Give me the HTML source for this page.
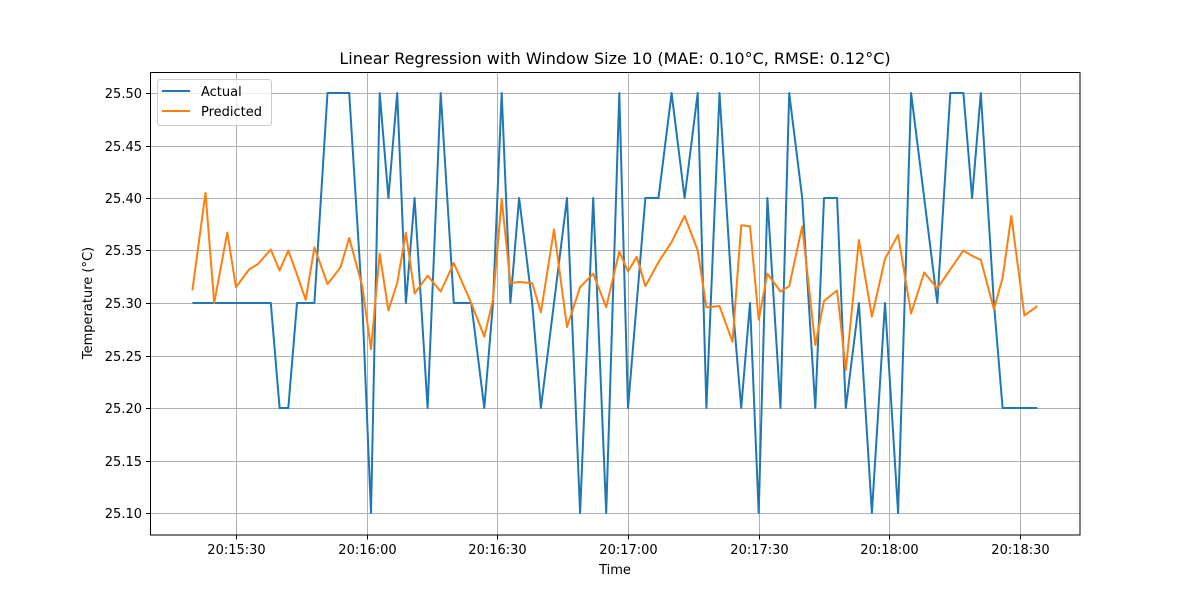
<!DOCTYPE html>
<html><head><meta charset="utf-8"><style>
body{margin:0;background:#fff;}
svg text{font-family:"DejaVu Sans","Liberation Sans",sans-serif;fill:#000;}
</style></head><body>
<svg id="chart" width="1200" height="600" xmlns="http://www.w3.org/2000/svg">
<rect width="1200" height="600" fill="#fff"/>
<g id="grid"></g>
<g id="series"></g>
<rect x="150.5" y="72.5" width="929.5" height="462.5" fill="none" stroke="#000" stroke-width="1"/>
<g id="ticks"></g>
<text x="615" y="64" text-anchor="middle" font-size="16">Linear Regression with Window Size 10 (MAE: 0.10°C, RMSE: 0.12°C)</text>
<text x="615" y="574" text-anchor="middle" font-size="13">Time</text>
<text transform="translate(92,303) rotate(-90)" text-anchor="middle" font-size="13">Temperature (°C)</text>
<g>
<rect x="157.5" y="79.5" width="114" height="46" rx="3" fill="#fff" fill-opacity="0.8" stroke="#ccc"/>
<line x1="162" y1="91" x2="190" y2="91" stroke="#1f77b4" stroke-width="2"/>
<text x="201" y="96" font-size="13">Actual</text>
<line x1="162" y1="111" x2="190" y2="111" stroke="#ff7f0e" stroke-width="2"/>
<text x="201" y="116" font-size="13">Predicted</text>
</g>
</svg>
<script>
// seconds after 20:15:00
const times=[20,23,25,28,30,33,35,38,40,42,44,46,48,51,54,56,59,61,63,65,67,69,71,74,77,80,84,87,89,91,93,95,98,100,103,106,109,112,115,118,120,122,124,127,130,133,136,138,141,144,146,148,150,152,155,157,160,163,165,168,170,173,176,179,182,185,188,191,194,197,199,201,204,206,208,211,214];
const actual=[25.3,25.3,25.3,25.3,25.3,25.3,25.3,25.3,25.2,25.2,25.3,25.3,25.3,25.5,25.5,25.5,25.3,25.1,25.5,25.4,25.5,25.3,25.4,25.2,25.5,25.3,25.3,25.2,25.3,25.5,25.3,25.4,25.3,25.2,25.3,25.4,25.1,25.4,25.1,25.5,25.2,25.3,25.4,25.4,25.5,25.4,25.5,25.2,25.5,25.3,25.2,25.3,25.1,25.4,25.2,25.5,25.4,25.2,25.4,25.4,25.2,25.3,25.1,25.3,25.1,25.5,25.4,25.3,25.5,25.5,25.4,25.5,25.3,25.2,25.2,25.2,25.2];
const predicted=[25.312,25.405,25.300,25.367,25.315,25.332,25.337,25.351,25.331,25.350,25.327,25.303,25.353,25.318,25.334,25.362,25.316,25.256,25.347,25.293,25.319,25.367,25.309,25.326,25.311,25.338,25.300,25.268,25.303,25.399,25.319,25.320,25.319,25.291,25.370,25.277,25.315,25.328,25.296,25.349,25.330,25.344,25.316,25.339,25.358,25.383,25.350,25.296,25.297,25.263,25.374,25.373,25.284,25.328,25.311,25.316,25.373,25.260,25.302,25.312,25.236,25.360,25.287,25.342,25.365,25.290,25.329,25.314,25.332,25.350,25.345,25.341,25.294,25.324,25.383,25.288,25.297];
const yTicks=[25.10,25.15,25.20,25.25,25.30,25.35,25.40,25.45,25.50];
const xTickSecs=[30,60,90,120,150,180,210];
const xTickLabels=["20:15:30","20:16:00","20:16:30","20:17:00","20:17:30","20:18:00","20:18:30"];

const X=t=>236+(t-30)*4.3556;
const Y=v=>93+(25.5-v)*1050;
const NS="http://www.w3.org/2000/svg";
const grid=document.getElementById('grid'),ticks=document.getElementById('ticks'),ser=document.getElementById('series');
function mk(tag,attrs,parent){const e=document.createElementNS(NS,tag);for(const k in attrs)e.setAttribute(k,attrs[k]);parent.appendChild(e);return e;}
yTicks.forEach(v=>{
  const y=Math.round(Y(v))+0.5;
  const g=mk('line',{x1:150.5,x2:1080,y1:y,y2:y,stroke:'#b0b0b0','stroke-width':1},grid);
  
  
  const t=mk('line',{x1:146,x2:150.5,y1:y,y2:y,stroke:'#000'},ticks);
  
  
  const l=mk('text',{x:142,y:y+4.5,'text-anchor':'end','font-size':13},ticks);
  l.textContent=v.toFixed(2);
  
  
});
xTickSecs.forEach((s,i)=>{
  const x=Math.round(X(s))+0.5;
  const g=mk('line',{x1:x,x2:x,y1:72.5,y2:535,stroke:'#b0b0b0','stroke-width':1},grid);
  
  
  const t=mk('line',{x1:x,x2:x,y1:535,y2:539.5,stroke:'#000'},ticks);
  
  
  const l=mk('text',{x:x,y:554,'text-anchor':'middle','font-size':13},ticks);
  l.textContent=xTickLabels[i];
  
  
});
function pts(vals){return vals.map((v,i)=>X(times[i]).toFixed(1)+','+Y(v).toFixed(1)).join(' ');}
const a=mk('polyline',{points:pts(actual),fill:'none',stroke:'#1f77b4','stroke-width':2,'stroke-linejoin':'round'},ser);


const p=mk('polyline',{points:pts(predicted),fill:'none',stroke:'#ff7f0e','stroke-width':2,'stroke-linejoin':'round'},ser);


</script>
</body></html>
